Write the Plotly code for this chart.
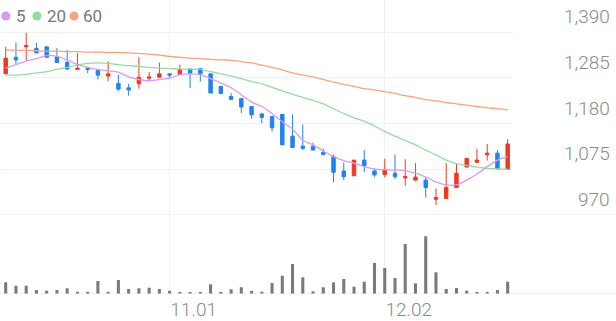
import plotly.graph_objects as go

dates = [
    "2024-10-10", "2024-10-11", "2024-10-14", "2024-10-15", "2024-10-16", "2024-10-17", "2024-10-18",
    "2024-10-21", "2024-10-22", "2024-10-23", "2024-10-24", "2024-10-25", "2024-10-28", "2024-10-29",
    "2024-10-30", "2024-10-31", "2024-11-01", "2024-11-04", "2024-11-05", "2024-11-06", "2024-11-07",
    "2024-11-08", "2024-11-11", "2024-11-12", "2024-11-13", "2024-11-14", "2024-11-15", "2024-11-18",
    "2024-11-19", "2024-11-20", "2024-11-21", "2024-11-22", "2024-11-25", "2024-11-26", "2024-11-27",
    "2024-11-28", "2024-11-29", "2024-12-02", "2024-12-03", "2024-12-04", "2024-12-05", "2024-12-06",
    "2024-12-09", "2024-12-10", "2024-12-11", "2024-12-12", "2024-12-13", "2024-12-16", "2024-12-17",
    "2024-12-18",
]
open_ = [1294, 1332, 1356, 1352, 1356, 1333, 1320, 1304, 1307, 1302, 1289, 1272, 1262, 1271, 1284,
         1286, 1294, 1292, 1305, 1306, 1294, 1265, 1242, 1237, 1219, 1202, 1196, 1201, 1151, 1128,
         1128, 1114, 1104, 1071, 1060, 1096, 1071, 1063, 1066, 1055, 1050, 1050, 1006, 1008, 1033,
         1080, 1091, 1108, 1112, 1075]
high = [1356, 1366, 1388, 1365, 1356, 1353, 1349, 1342, 1307, 1302, 1323, 1292, 1271, 1332, 1298,
        1320, 1294, 1315, 1305, 1306, 1294, 1265, 1250, 1237, 1219, 1205, 1196, 1201, 1201, 1178,
        1136, 1123, 1109, 1090, 1096, 1119, 1077, 1099, 1109, 1098, 1089, 1057, 1031, 1089, 1089,
        1100, 1122, 1133, 1119, 1144]
low = [1293, 1317, 1323, 1342, 1332, 1320, 1304, 1304, 1296, 1281, 1277, 1254, 1244, 1260, 1277,
       1286, 1283, 1292, 1261, 1276, 1250, 1249, 1235, 1204, 1191, 1181, 1161, 1131, 1123, 1119,
       1119, 1106, 1045, 1050, 1060, 1068, 1057, 1057, 1053, 1037, 1050, 1010, 993, 1008, 1033,
       1080, 1091, 1095, 1076, 1075]
close = [1330, 1326, 1359, 1342, 1332, 1320, 1305, 1307, 1304, 1291, 1294, 1259, 1257, 1286, 1287,
         1294, 1291, 1304, 1295, 1294, 1250, 1249, 1235, 1218, 1200, 1194, 1170, 1131, 1125, 1123,
         1119, 1109, 1068, 1058, 1096, 1083, 1062, 1073, 1058, 1058, 1057, 1033, 1010, 1033, 1066,
         1100, 1096, 1112, 1076, 1133]
ma5 = [1307, 1315, 1323, 1329, 1336, 1334, 1326, 1315, 1309, 1304, 1301, 1298, 1287, 1281, 1278,
       1281, 1284, 1292, 1294, 1292, 1283, 1273, 1262, 1246, 1229, 1219, 1203, 1184, 1167, 1142,
       1131, 1117, 1104, 1095, 1089, 1081, 1075, 1074, 1073, 1072, 1066, 1057, 1046, 1039, 1039,
       1050, 1064, 1081, 1096, 1104]
ma20 = [1291, 1291, 1293, 1296, 1299, 1304, 1309, 1314, 1318, 1319, 1318, 1315, 1313, 1311, 1309,
        1307, 1306, 1305, 1305, 1304, 1299, 1294, 1289, 1283, 1276, 1271, 1263, 1255, 1247, 1240,
        1233, 1225, 1214, 1203, 1193, 1185, 1174, 1162, 1151, 1141, 1131, 1119, 1108, 1096, 1088,
        1084, 1080, 1077, 1076, 1075]
ma60 = [1349, 1348, 1348, 1347, 1346, 1346, 1345, 1345, 1344, 1344, 1343, 1343, 1342, 1341, 1339,
        1337, 1334, 1332, 1330, 1329, 1327, 1326, 1325, 1322, 1319, 1314, 1309, 1303, 1296, 1291,
        1287, 1281, 1275, 1270, 1265, 1260, 1257, 1253, 1249, 1244, 1240, 1235, 1232, 1228, 1225,
        1222, 1219, 1216, 1214, 1211]
volume = [117000, 83000, 83000, 40000, 33000, 40000, 57000, 23000, 23000, 130000, 23000, 140000,
          50000, 57000, 63000, 50000, 33000, 17000, 17000, 17000, 97000, 17000, 47000, 67000, 30000,
          23000, 110000, 183000, 300000, 167000, 27000, 67000, 117000, 150000, 73000, 123000, 310000,
          260000, 160000, 500000, 107000, 577000, 217000, 50000, 60000, 33000, 17000, 17000, 40000,
          123000]

price_ticks = [970, 1075, 1180, 1285, 1390]
price_tick_text = ["970", "1,075", "1,180", "1,285", "1,390"]
x_tick_dates = ["2024-11-01", "2024-12-02"]
x_tick_text = ["11.01", "12.02"]
ma_names = ["5", "20", "60"]

RED = "#ec3a22"
BLUE = "#2183ef"
C_MA5 = "#d79cf0"
C_MA20 = "#94dca1"
C_MA60 = "#f8a57f"
GRID = "#f1f1f1"
AXLINE = "#e6e6e6"
TXT = "#8a8a8a"

W, H = 616, 321
# pixel layout
px_price_top, px_price_bot = 0, 215
px_vol_bot = 294
px_1390 = 32
units_per_px = (price_ticks[-1] - price_ticks[0]) / (px_price_bot - px_1390)
y_top = price_ticks[-1] + (px_1390 - px_price_top) * units_per_px
x_dom = [0.58 / W, 512.8 / W]

fig = go.Figure()
fig.add_trace(go.Candlestick(
    x=dates, open=open_, high=high, low=low, close=close,
    increasing=dict(line=dict(color=RED, width=1), fillcolor=RED),
    decreasing=dict(line=dict(color=BLUE, width=1), fillcolor=BLUE),
    whiskerwidth=0, showlegend=False, xaxis="x", yaxis="y",
))
for vals, col in [(ma60, C_MA60), (ma20, C_MA20), (ma5, C_MA5)]:
    fig.add_trace(go.Scatter(x=dates, y=vals, mode="lines", line=dict(color=col, width=1.3, shape="spline"),
                             showlegend=False, xaxis="x", yaxis="y"))
fig.add_trace(go.Bar(x=dates, y=volume, marker=dict(color="#7a7a7a", line=dict(width=0)), width=0.3,
                     showlegend=False, xaxis="x2", yaxis="y2"))

fig.update_layout(
    width=W, height=H, margin=dict(l=0, r=0, t=0, b=0),
    paper_bgcolor="white", plot_bgcolor="white",
    boxgap=0.52,
    font=dict(family="Roboto", color=TXT),
    xaxis=dict(domain=x_dom, type="category", rangeslider=dict(visible=False), range=[-0.5, 49.5],
               tickvals=x_tick_dates, showticklabels=False, showgrid=True, gridcolor=GRID, gridwidth=1,
               zeroline=False, showline=False, ticks=""),
    xaxis2=dict(domain=x_dom, type="category", matches="x", anchor="y2", tickvals=x_tick_dates,
                ticktext=x_tick_text, showgrid=True, gridcolor=GRID, zeroline=False, showline=False,
                ticks="", tickfont=dict(size=19, color=TXT, family="Roboto", weight=300),
                ticklabelshift=24, ticklabelstandoff=2),
    yaxis=dict(domain=[1 - px_price_bot / H, 1 - px_price_top / H], range=[price_ticks[0], y_top],
               tickvals=price_ticks[1:], showticklabels=False, showgrid=True, gridcolor=GRID,
               zeroline=False, showline=False, ticks="", anchor="x"),
    yaxis2=dict(domain=[1 - px_vol_bot / H, 1 - px_price_bot / H], range=[0, 790000],
                showticklabels=False, showgrid=False, zeroline=False, showline=False, anchor="x2"),
)

# full-width base lines
fig.add_shape(type="line", xref="paper", x0=0, x1=1, yref="y", y0=price_ticks[0], y1=price_ticks[0],
              line=dict(color=AXLINE, width=1))
fig.add_shape(type="line", xref="paper", x0=0, x1=1, yref="y2", y0=0, y1=0,
              line=dict(color=AXLINE, width=1))

# right-side price labels above gridlines
for v, t in zip(price_ticks, price_tick_text):
    fig.add_annotation(x=1, xref="paper", xanchor="right", xshift=-4, y=v, yref="y", yanchor="bottom",
                       yshift=2, text=t, showarrow=False,
                       font=dict(size=19, color=TXT, family="Roboto", weight=300))

# legend: coloured dots + labels (top-left)
leg_dot_x = [5.8, 37.0, 74.0]
leg_txt_x = [14.5, 45.5, 82.0]
leg_y = 16.0
dot_r = 4.6
for n, c, dx, tx in zip(ma_names, [C_MA5, C_MA20, C_MA60], leg_dot_x, leg_txt_x):
    fig.add_shape(type="circle", xref="paper", yref="paper",
                  x0=(dx - dot_r) / W, x1=(dx + dot_r) / W,
                  y0=1 - (leg_y + dot_r) / H, y1=1 - (leg_y - dot_r) / H,
                  fillcolor=c, line=dict(width=0))
    fig.add_annotation(x=tx / W, xref="paper", xanchor="left", y=1 - leg_y / H, yref="paper",
                       yanchor="middle", text=n, showarrow=False, borderpad=0,
                       font=dict(size=17, color="#777777", family="Roboto"))

fig.write_html("out.html")
